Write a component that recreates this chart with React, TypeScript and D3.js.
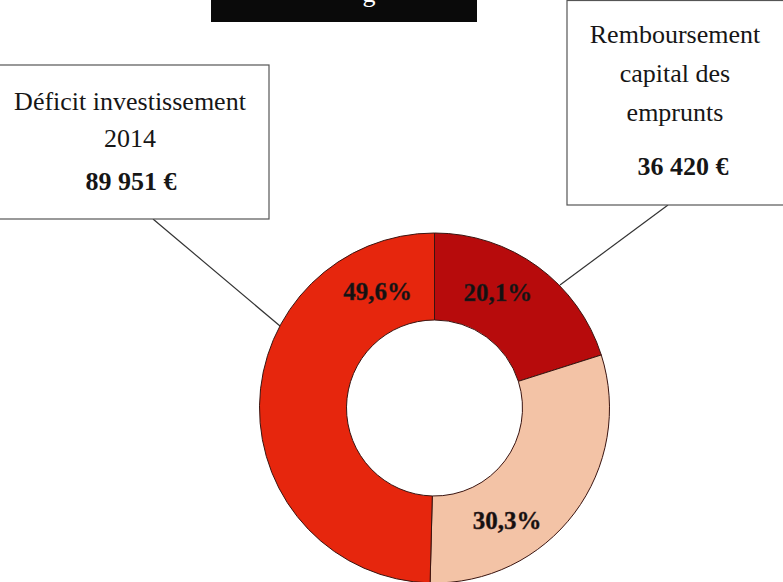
import React from "react";
import * as d3 from "d3";

const categories = ["Remboursement capital des emprunts", "Autre", "Déficit investissement 2014"];
const shares = [20.1, 30.3, 49.6];
const shareLabels = ["20,1%", "30,3%", "49,6%"];
const colors = ["#b70b0c", "#f3c3a6", "#e6260d"];
const leftBoxLines = ["Déficit investissement", "2014"];
const leftBoxAmount = "89 951 €";
const rightBoxLines = ["Remboursement", "capital des", "emprunts"];
const rightBoxAmount = "36 420 €";

const W = 783;
const H = 582;
const CX = 434.5;
const CY = 408;
const R_OUT = 175;
const R_IN = 88;
// label offsets (angle in degrees from top, radius) for each slice label
const labelPolar = [
  { a: 28.7, r: 132 },
  { a: 147, r: 133.5 },
  { a: -26, r: 130 },
];

export default function App() {
  const pie = d3
    .pie<number>()
    .sort(null)
    .value((d) => d)
    .startAngle(0)
    .endAngle(2 * Math.PI);
  const arcs = pie(shares);
  const arc = d3.arc<d3.PieArcDatum<number>>().innerRadius(R_IN).outerRadius(R_OUT);
  const font = "'Liberation Serif', 'Times New Roman', serif";

  return (
    <svg
      width={W}
      height={H}
      style={{ position: "absolute", left: 0, top: 0, background: "#fff" }}
    >
      {/* title banner */}
      <rect x={211} y={-2} width={266} height={24} fill="#0a0a0a" />
      <text x={369} y={2} fill="#fff" fontFamily={font} fontSize={26} textAnchor="middle">
        g
      </text>

      {/* leader lines */}
      <line x1={153} y1={219} x2={280} y2={326} stroke="#333" strokeWidth={1.2} />
      <line x1={668} y1={205} x2={560} y2={285} stroke="#333" strokeWidth={1.2} />

      {/* donut */}
      <g transform={`translate(${CX},${CY})`}>
        {arcs.map((a, i) => (
          <path key={categories[i]} d={arc(a) || ""} fill={colors[i]} stroke="#3a1410" strokeWidth={1} />
        ))}
        {arcs.map((a, i) => {
          const p = labelPolar[i];
          const rad = (p.a * Math.PI) / 180;
          const x = p.r * Math.sin(rad);
          const y = -p.r * Math.cos(rad);
          return (
            <text
              key={"l" + i}
              x={x}
              y={y}
              dy="0.35em"
              textAnchor="middle"
              fontFamily={font}
              fontWeight="bold"
              fontSize={25}
              fill="#141010"
              stroke="#3a2020"
              strokeWidth={0.4}
            >
              {shareLabels[i]}
            </text>
          );
        })}
      </g>

      {/* left callout box */}
      <rect x={-2} y={65} width={271} height={154} fill="#fff" stroke="#555" strokeWidth={1.2} />
      {leftBoxLines.map((t, i) => (
        <text
          key={t}
          x={130}
          y={110 + i * 37}
          textAnchor="middle"
          fontFamily={font}
          fontSize={26}
          fill="#161616"
        >
          {t}
        </text>
      ))}
      <text x={131} y={190} textAnchor="middle" fontFamily={font} fontSize={26} fontWeight="bold" fill="#161616">
        {leftBoxAmount}
      </text>

      {/* right callout box */}
      <rect x={567} y={0.5} width={230} height={204.5} fill="#fff" stroke="#555" strokeWidth={1.2} />
      {rightBoxLines.map((t, i) => (
        <text
          key={t}
          x={675}
          y={43 + i * 39}
          textAnchor="middle"
          fontFamily={font}
          fontSize={26}
          fill="#161616"
        >
          {t}
        </text>
      ))}
      <text x={683} y={175} textAnchor="middle" fontFamily={font} fontSize={26} fontWeight="bold" fill="#161616">
        {rightBoxAmount}
      </text>
    </svg>
  );
}
